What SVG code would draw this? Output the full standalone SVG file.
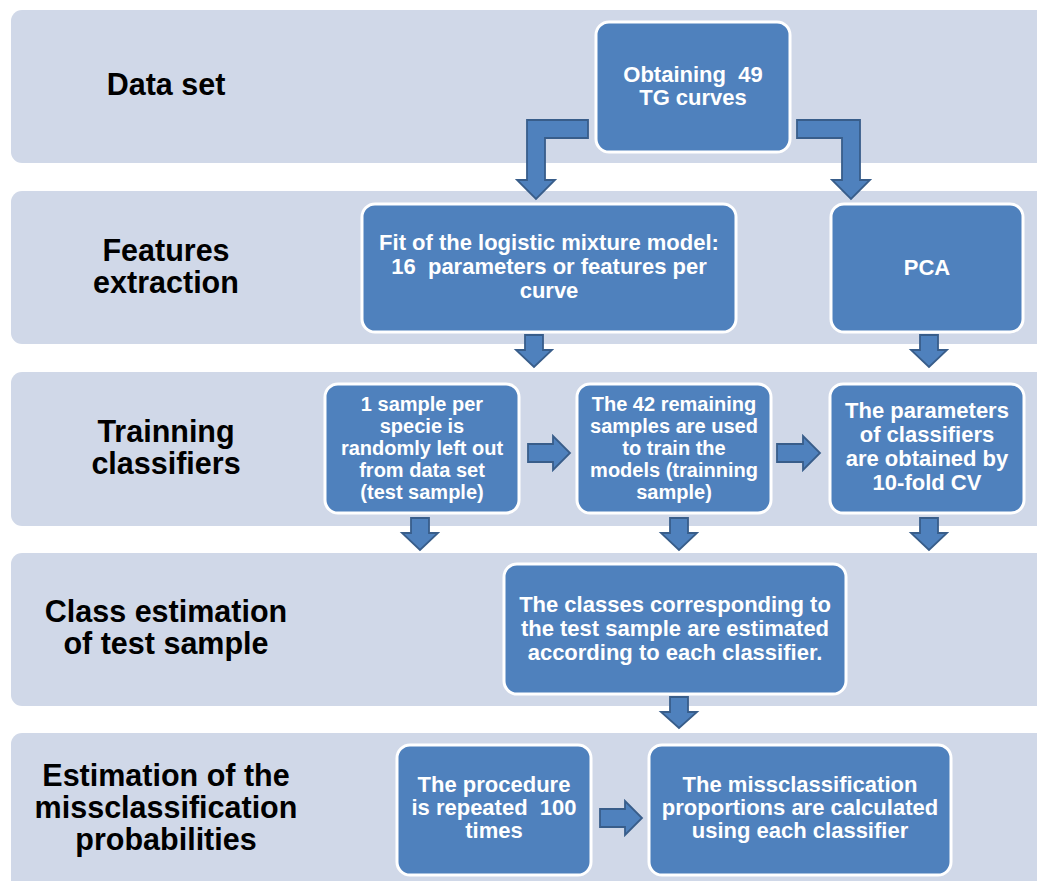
<svg xmlns="http://www.w3.org/2000/svg" width="1037" height="881" viewBox="0 0 1037 881">
<style>
.band{fill:#D0D8E8}
.box{fill:#4F81BD;stroke:#FFFFFF;stroke-width:3}
.arr{fill:#4F81BD;stroke:#385D8A;stroke-width:1.8;stroke-linejoin:miter}
.lbl{font-family:"Liberation Sans",Arial,sans-serif;font-weight:bold;font-size:30.5px;fill:#000;text-anchor:middle}
.t{font-family:"Liberation Sans",Arial,sans-serif;font-weight:bold;font-size:22px;fill:#FFF;text-anchor:middle;white-space:pre}
.s{font-size:20px}
</style>
<rect width="1037" height="881" fill="#FFFFFF"/>
<g id="bands">
<rect class="band" x="11" y="10" width="1040" height="153" rx="11"/>
<rect class="band" x="11" y="191" width="1040" height="153" rx="11"/>
<rect class="band" x="11" y="372" width="1040" height="154" rx="11"/>
<rect class="band" x="11" y="553" width="1040" height="153" rx="11"/>
<rect class="band" x="11" y="733" width="1040" height="160" rx="11"/>
</g>
<g id="stage-labels">
<text class="lbl" x="166" y="95">Data set</text>
<text class="lbl" x="166" y="261">Features</text>
<text class="lbl" x="166" y="293">extraction</text>
<text class="lbl" x="166" y="442">Trainning</text>
<text class="lbl" x="166" y="474">classifiers</text>
<text class="lbl" x="166" y="622">Class estimation</text>
<text class="lbl" x="166" y="654">of test sample</text>
<text class="lbl" x="166" y="786">Estimation of the</text>
<text class="lbl" x="166" y="818">missclassification</text>
<text class="lbl" x="166" y="850">probabilities</text>
</g>
<g id="connectors">
<path class="arr" d="M588,120 L527,120 L527,180 L517,180 L536,199 L555,180 L545,180 L545,138 L588,138 Z"/>
<path class="arr" d="M797,120 L860,120 L860,180 L870,180 L851,199 L832,180 L842,180 L842,138 L797,138 Z"/>
<path class="arr" d="M525,335 L543,335 L543,350 L552,350 L534,367 L516,350 L525,350 Z"/>
<path class="arr" d="M920,335 L938,335 L938,350 L947,350 L929,367 L911,350 L920,350 Z"/>
<path class="arr" d="M528,444 L553,444 L553,436 L570,453 L553,470 L553,462 L528,462 Z"/>
<path class="arr" d="M777,444 L803,444 L803,436 L820,453 L803,470 L803,462 L777,462 Z"/>
<path class="arr" d="M411,518 L429,518 L429,533 L438,533 L420,550 L402,533 L411,533 Z"/>
<path class="arr" d="M670,518 L688,518 L688,533 L697,533 L679,550 L661,533 L670,533 Z"/>
<path class="arr" d="M920,518 L938,518 L938,533 L947,533 L929,550 L911,533 L920,533 Z"/>
<path class="arr" d="M670,697 L688,697 L688,712 L697,712 L679,728 L661,712 L670,712 Z"/>
<path class="arr" d="M600,809 L625,809 L625,801 L642,818 L625,835 L625,827 L600,827 Z"/>
</g>
<g id="n-obtaining">
<rect class="box" x="596" y="22" width="194" height="130" rx="13"/>
<text class="t" x="693" y="82">Obtaining  49</text>
<text class="t" x="693" y="105">TG curves</text>
</g>
<g id="n-fit">
<rect class="box" x="362" y="204" width="374" height="128" rx="13"/>
<text class="t" x="549" y="250">Fit of the logistic mixture model:</text>
<text class="t" x="549" y="274">16  parameters or features per</text>
<text class="t" x="549" y="298">curve</text>
</g>
<g id="n-pca">
<rect class="box" x="831" y="204" width="192" height="128" rx="13"/>
<text class="t" x="927" y="275">PCA</text>
</g>
<g id="n-leftout">
<rect class="box" x="325" y="384" width="194" height="129" rx="13"/>
<text class="t s" x="422" y="411">1 sample per</text>
<text class="t s" x="422" y="433">specie is</text>
<text class="t s" x="422" y="455">randomly left out</text>
<text class="t s" x="422" y="477">from data set</text>
<text class="t s" x="422" y="499">(test sample)</text>
</g>
<g id="n-train">
<rect class="box" x="577" y="384" width="194" height="129" rx="13"/>
<text class="t s" x="674" y="411">The 42 remaining</text>
<text class="t s" x="674" y="433">samples are used</text>
<text class="t s" x="674" y="455">to train the</text>
<text class="t s" x="674" y="477">models (trainning</text>
<text class="t s" x="674" y="499">sample)</text>
</g>
<g id="n-cv">
<rect class="box" x="830" y="384" width="194" height="129" rx="13"/>
<text class="t" x="927" y="418">The parameters</text>
<text class="t" x="927" y="442">of classifiers</text>
<text class="t" x="927" y="466">are obtained by</text>
<text class="t" x="927" y="490">10-fold CV</text>
</g>
<g id="n-classes">
<rect class="box" x="504" y="564" width="342" height="130" rx="13"/>
<text class="t" x="675" y="612">The classes corresponding to</text>
<text class="t" x="675" y="636">the test sample are estimated</text>
<text class="t" x="675" y="660">according to each classifier.</text>
</g>
<g id="n-repeat">
<rect class="box" x="397" y="745" width="194" height="130" rx="13"/>
<text class="t" x="494" y="792">The procedure</text>
<text class="t" x="494" y="815">is repeated  100</text>
<text class="t" x="494" y="838">times</text>
</g>
<g id="n-proportions">
<rect class="box" x="649" y="745" width="302" height="130" rx="13"/>
<text class="t" x="800" y="792">The missclassification</text>
<text class="t" x="800" y="815">proportions are calculated</text>
<text class="t" x="800" y="838">using each classifier</text>
</g>
</svg>
